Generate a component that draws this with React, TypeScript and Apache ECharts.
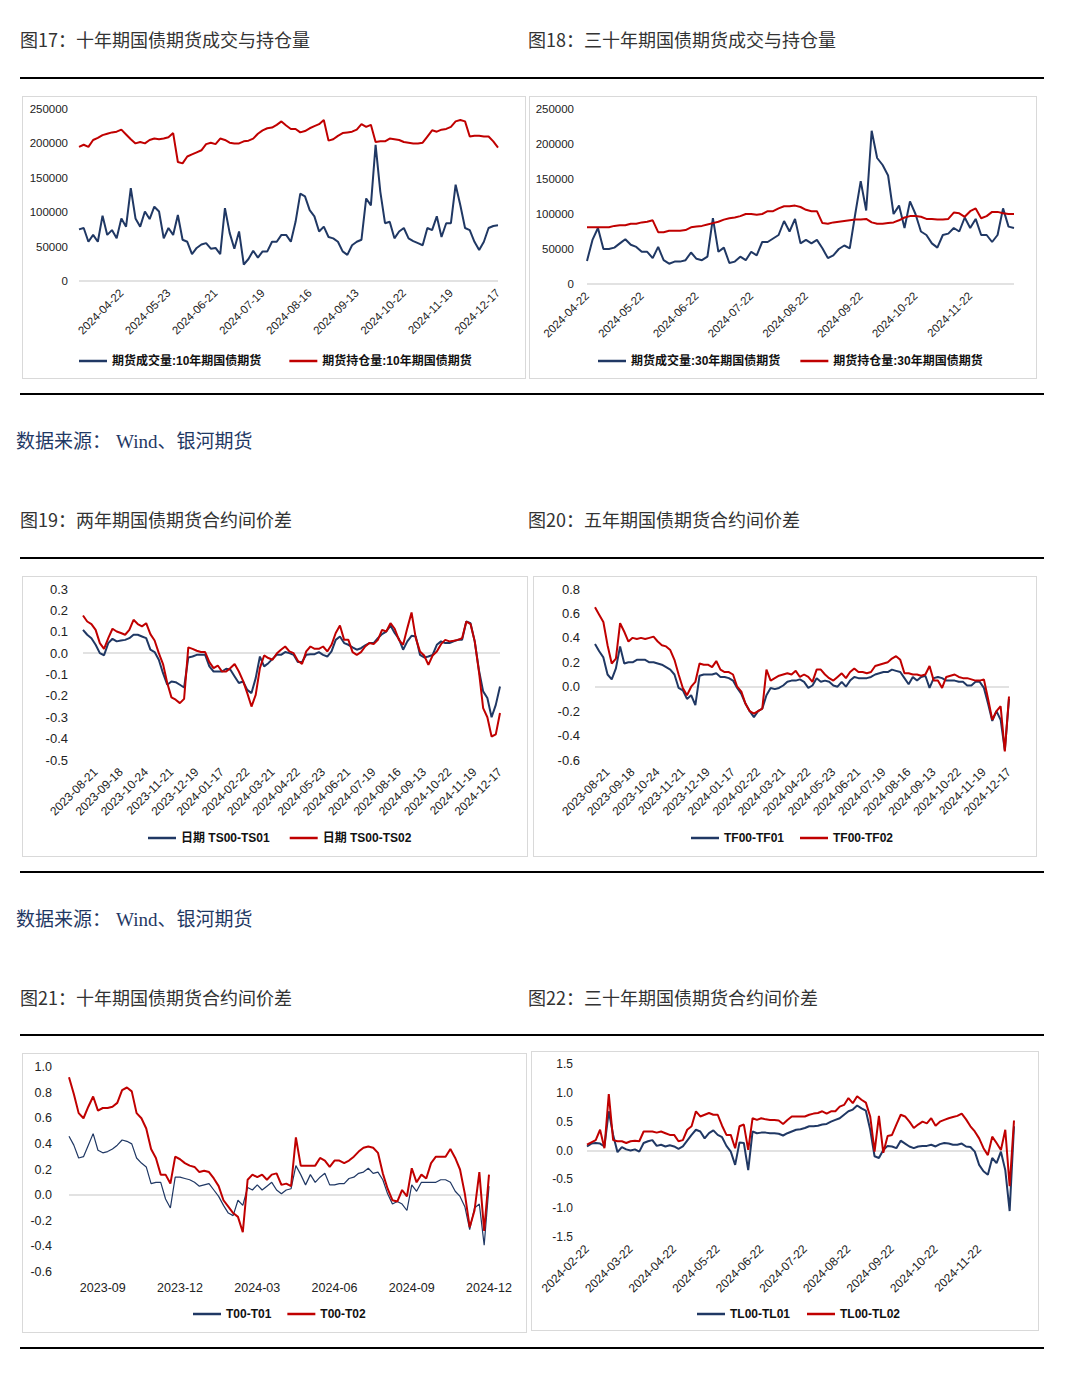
import React, { useEffect, useRef } from 'react';
import * as echarts from 'echarts';

const BLUE = '#203864';
const RED = '#c00000';
const FONT = '"Liberation Sans", Arial, "Noto Sans CJK SC", sans-serif';

// ---------- Fig 17: 10Y volume / open interest ----------
const X17_TICKS = ['2024-04-22', '2024-05-23', '2024-06-21', '2024-07-19', '2024-08-16', '2024-09-13', '2024-10-22', '2024-11-19', '2024-12-17'];
const VOL_10Y = [
  75000, 77000, 57000, 67000, 57000, 95000, 67000, 74000, 62000, 91000,
  79000, 135000, 91000, 79000, 101000, 90000, 108000, 101000, 62000, 77000,
  67000, 96000, 60000, 57000, 39000, 48000, 53000, 55000, 47000, 48000,
  39000, 106000, 70000, 47000, 72000, 24000, 32000, 44000, 34000, 43000,
  43000, 57000, 57000, 67000, 67000, 57000, 86000, 127000, 123000, 103000,
  94000, 72000, 79000, 64000, 62000, 57000, 43000, 38000, 52000, 57000,
  60000, 120000, 110000, 198000, 130000, 84000, 86000, 62000, 72000, 77000,
  62000, 58000, 55000, 52000, 77000, 74000, 94000, 64000, 84000, 84000,
  140000, 110000, 77000, 74000, 57000, 45000, 57000, 77000, 80000, 81000,
];
const OI_10Y = [
  195000, 198000, 195000, 205000, 208000, 212000, 214000, 216000, 217000, 220000,
  213000, 206000, 200000, 202000, 200000, 205000, 207000, 206000, 207000, 209000,
  215000, 173000, 171000, 181000, 184000, 187000, 190000, 199000, 201000, 199000,
  207000, 205000, 201000, 200000, 200000, 203000, 204000, 207000, 214000, 219000,
  222000, 223000, 227000, 232000, 226000, 221000, 221000, 216000, 218000, 222000,
  225000, 228000, 234000, 204000, 206000, 211000, 215000, 216000, 217000, 220000,
  228000, 224000, 227000, 202000, 203000, 203000, 207000, 206000, 205000, 202000,
  201000, 200000, 200000, 201000, 210000, 219000, 217000, 220000, 221000, 224000,
  232000, 234000, 232000, 210000, 211000, 211000, 210000, 210000, 203000, 194000,
];

// ---------- Fig 18: 30Y volume / open interest ----------
const X18_TICKS = ['2024-04-22', '2024-05-22', '2024-06-22', '2024-07-22', '2024-08-22', '2024-09-22', '2024-10-22', '2024-11-22'];
const VOL_30Y = [
  33000, 63000, 80000, 50000, 50000, 52000, 58000, 64000, 56000, 53000,
  46000, 46000, 37000, 53000, 34000, 29000, 32000, 32000, 34000, 45000,
  36000, 34000, 39000, 94000, 46000, 52000, 30000, 32000, 39000, 34000,
  46000, 41000, 60000, 60000, 65000, 70000, 90000, 75000, 93000, 58000,
  63000, 58000, 63000, 51000, 37000, 41000, 50000, 55000, 51000, 100000,
  147000, 105000, 219000, 180000, 170000, 155000, 100000, 112000, 80000, 118000,
  100000, 75000, 70000, 58000, 52000, 70000, 72000, 80000, 75000, 95000,
  80000, 93000, 70000, 70000, 60000, 70000, 108000, 82000, 80000,
];
const OI_30Y = [
  81000, 81000, 81000, 81000, 81000, 83000, 84000, 84000, 86000, 86000,
  88000, 89000, 91000, 74000, 74000, 76000, 76000, 76000, 77000, 81000,
  82000, 83000, 85000, 87000, 89000, 92000, 94000, 95000, 97000, 100000,
  100000, 99000, 100000, 104000, 104000, 108000, 111000, 111000, 112000, 110000,
  106000, 104000, 104000, 87000, 86000, 88000, 89000, 90000, 91000, 92000,
  92000, 93000, 88000, 86000, 86000, 87000, 88000, 91000, 95000, 97000,
  97000, 96000, 93000, 93000, 92000, 92000, 93000, 102000, 101000, 96000,
  104000, 108000, 94000, 97000, 103000, 103000, 101000, 100000, 100000,
];

// ---------- Fig 19 / 20: shared date ticks ----------
const X1920_TICKS = ['2023-08-21', '2023-09-18', '2023-10-24', '2023-11-21', '2023-12-19', '2024-01-17', '2024-02-22', '2024-03-21', '2024-04-22', '2024-05-23', '2024-06-21', '2024-07-19', '2024-08-16', '2024-09-13', '2024-10-22', '2024-11-19', '2024-12-17'];
const TS00_TS01 = [
  0.109, 0.086, 0.07, 0.039, 0.0, -0.01, 0.047, 0.067, 0.055, 0.059,
  0.062, 0.07, 0.086, 0.086, 0.078, 0.07, 0.016, 0.005, -0.031, -0.094,
  -0.148, -0.133, -0.136, -0.148, -0.161, -0.02, -0.016, -0.008, -0.008, -0.008,
  -0.062, -0.086, -0.086, -0.086, -0.073, -0.078, -0.109, -0.14, -0.133, -0.172,
  -0.187, -0.117, -0.016, -0.062, -0.047, -0.027, -0.008, -0.008, 0.005, 0.0,
  -0.008, -0.042, -0.042, -0.008, -0.005, -0.005, 0.005, -0.008, -0.016, 0.008,
  0.062, 0.078, 0.047, 0.039, 0.027, 0.016, 0.023, 0.036, 0.047, 0.047,
  0.07, 0.089, 0.101, 0.129, 0.094, 0.067, 0.016, 0.055, 0.081, 0.078,
  -0.008, -0.02, -0.016, -0.008, 0.039, 0.055, 0.047, 0.047, 0.055, 0.062,
  0.062, 0.148, 0.14, 0.055, -0.08, -0.179, -0.21, -0.30, -0.242, -0.156,
];
const TS00_TS02 = [
  0.176, 0.148, 0.136, 0.109, 0.047, 0.02, 0.07, 0.114, 0.101, 0.094,
  0.086, 0.109, 0.156, 0.136, 0.125, 0.14, 0.089, 0.059, 0.0, -0.051,
  -0.14, -0.207, -0.218, -0.234, -0.214, 0.027, 0.02, 0.011, 0.005, 0.005,
  -0.042, -0.07, -0.058, -0.086, -0.086, -0.07, -0.051, -0.086, -0.13, -0.187,
  -0.25, -0.195, -0.07, -0.011, -0.023, -0.031, -0.002, 0.016, 0.031, 0.008,
  0.0, -0.036, -0.051, 0.008, 0.031, 0.02, 0.02, 0.031, 0.008, 0.039,
  0.094, 0.129, 0.062, 0.062, 0.005, -0.008, 0.005, 0.031, 0.047, 0.042,
  0.062, 0.109, 0.101, 0.14, 0.114, 0.062, 0.039, 0.117, 0.19, 0.07,
  0.008, -0.011, -0.055, -0.011, 0.008, 0.042, 0.062, 0.055, 0.058, 0.062,
  0.07, 0.148, 0.136, 0.055, -0.086, -0.257, -0.30, -0.39, -0.38, -0.28,
];
const TF00_TF01 = [
  0.35, 0.29, 0.24, 0.10, 0.06, 0.15, 0.33, 0.19, 0.20, 0.20,
  0.22, 0.22, 0.22, 0.20, 0.20, 0.19, 0.18, 0.16, 0.14, 0.10,
  -0.01, -0.03, -0.10, -0.07, -0.15, 0.09, 0.10, 0.10, 0.10, 0.11,
  0.08, 0.08, 0.07, 0.05, -0.01, -0.06, -0.14, -0.20, -0.25, -0.20,
  -0.18, -0.07, -0.01, -0.02, -0.01, 0.01, 0.04, 0.05, 0.05, 0.06,
  0.04, -0.01, 0.01, 0.07, 0.04, 0.05, 0.04, 0.01, 0.0, 0.04,
  0.0, 0.05, 0.08, 0.07, 0.07, 0.07, 0.08, 0.10, 0.11, 0.12,
  0.12, 0.14, 0.13, 0.12, 0.07, 0.02, 0.08, 0.05, 0.08, 0.09,
  -0.01, 0.07, 0.08, 0.07, 0.05, 0.05, 0.05, 0.04, 0.04, 0.01,
  0.01, 0.04, 0.04, -0.01, -0.14, -0.28, -0.20, -0.27, -0.52, -0.10,
];
const TF00_TF02 = [
  0.65, 0.59, 0.53, 0.34, 0.19, 0.23, 0.52, 0.45, 0.37, 0.40,
  0.39, 0.40, 0.39, 0.40, 0.41, 0.37, 0.34, 0.33, 0.30, 0.22,
  0.10, -0.01, -0.07, 0.0, 0.04, 0.19, 0.18, 0.18, 0.16, 0.21,
  0.14, 0.12, 0.12, 0.10, 0.0, -0.04, -0.14, -0.20, -0.22, -0.20,
  -0.18, 0.14, 0.05, 0.07, 0.09, 0.10, 0.11, 0.10, 0.13, 0.08,
  0.10, 0.08, 0.04, 0.14, 0.14, 0.10, 0.07, 0.05, 0.08, 0.11,
  0.07, 0.12, 0.15, 0.12, 0.12, 0.11, 0.12, 0.17, 0.18, 0.19,
  0.20, 0.23, 0.25, 0.22, 0.11, 0.11, 0.10, 0.10, 0.09, 0.10,
  0.17, 0.05, 0.05, -0.01, 0.08, 0.09, 0.10, 0.08, 0.07, 0.07,
  0.06, 0.05, 0.05, 0.06, -0.10, -0.27, -0.20, -0.16, -0.53, -0.08,
];

// ---------- Fig 21: 10Y calendar spreads ----------
const X21_TICKS = ['2023-09', '2023-12', '2024-03', '2024-06', '2024-09', '2024-12'];
const T00_T01 = [
  0.46, 0.39, 0.29, 0.30, 0.39, 0.48, 0.35, 0.33, 0.34, 0.36,
  0.39, 0.43, 0.42, 0.40, 0.29, 0.25, 0.22, 0.09, 0.10, 0.10,
  -0.03, -0.10, 0.14, 0.14, 0.13, 0.12, 0.10, 0.07, 0.08, 0.09,
  0.04, -0.01, -0.08, -0.14, -0.16, -0.04, -0.08, 0.06, 0.04, 0.08,
  0.04, 0.07, 0.10, 0.04, 0.01, 0.04, 0.05, 0.23, 0.16, 0.08,
  0.16, 0.10, 0.14, 0.17, 0.08, 0.08, 0.09, 0.09, 0.13, 0.14,
  0.17, 0.18, 0.21, 0.17, 0.18, 0.12, 0.01, -0.07, -0.05, -0.07,
  -0.12, 0.08, 0.03, 0.10, 0.10, 0.10, 0.10, 0.12, 0.12, 0.10,
  0.03, -0.01, -0.09, -0.27, -0.10, -0.07, -0.39, 0.07,
];
const T00_T02 = [
  0.92, 0.79, 0.64, 0.60, 0.69, 0.77, 0.66, 0.68, 0.68, 0.69,
  0.72, 0.82, 0.84, 0.81, 0.64, 0.60, 0.52, 0.36, 0.29, 0.16,
  0.16, 0.09, 0.30, 0.28, 0.25, 0.23, 0.22, 0.18, 0.19, 0.18,
  0.13, 0.07, -0.04, -0.09, -0.14, -0.17, -0.29, 0.12, 0.16, 0.14,
  0.16, 0.12, 0.16, 0.17, 0.08, 0.09, 0.07, 0.45, 0.23, 0.23,
  0.23, 0.23, 0.29, 0.27, 0.22, 0.27, 0.27, 0.25, 0.27, 0.30,
  0.34, 0.37, 0.38, 0.37, 0.33, 0.17, 0.05, -0.04, -0.05, 0.04,
  -0.01, 0.21, 0.10, 0.16, 0.13, 0.25, 0.30, 0.30, 0.30, 0.36,
  0.29, 0.20, 0.01, -0.25, -0.12, 0.18, -0.28, 0.16,
];

// ---------- Fig 22: 30Y calendar spreads ----------
const X22_TICKS = ['2024-02-22', '2024-03-22', '2024-04-22', '2024-05-22', '2024-06-22', '2024-07-22', '2024-08-22', '2024-09-22', '2024-10-22', '2024-11-22'];
const TL00_TL01 = [
  0.07, 0.12, 0.13, 0.12, 0.07, 0.68, 0.27, -0.03, 0.06, 0.02,
  0.0, 0.02, -0.02, 0.13, 0.16, 0.18, 0.08, 0.10, 0.07, 0.09,
  0.07, 0.03, 0.07, 0.17, 0.27, 0.36, 0.33, 0.21, 0.30, 0.35,
  0.27, 0.23, 0.08, -0.02, -0.25, 0.14, 0.13, -0.34, 0.33, 0.30,
  0.31, 0.31, 0.30, 0.30, 0.29, 0.26, 0.30, 0.33, 0.36, 0.37,
  0.39, 0.42, 0.42, 0.43, 0.45, 0.46, 0.50, 0.53, 0.56, 0.62,
  0.68, 0.71, 0.78, 0.73, 0.69, 0.36, -0.10, -0.13, 0.01, 0.08,
  0.07, 0.04, 0.17, 0.12, 0.07, 0.04, 0.07, 0.08, 0.08, 0.10,
  0.07, 0.11, 0.13, 0.12, 0.10, 0.10, 0.12, 0.07, 0.06, -0.02,
  -0.25, -0.36, -0.42, -0.13, -0.22, -0.02, -0.34, -1.05, 0.42,
];
const TL00_TL02 = [
  0.10, 0.14, 0.18, 0.36, 0.04, 0.98, 0.18, 0.16, 0.16, 0.13,
  0.16, 0.17, 0.16, 0.33, 0.33, 0.33, 0.31, 0.33, 0.30, 0.27,
  0.27, 0.16, 0.18, 0.36, 0.42, 0.68, 0.59, 0.62, 0.65, 0.62,
  0.62, 0.43, 0.27, 0.27, 0.04, 0.42, 0.45, 0.01, 0.56, 0.53,
  0.56, 0.54, 0.53, 0.53, 0.52, 0.46, 0.53, 0.59, 0.59, 0.59,
  0.59, 0.62, 0.64, 0.65, 0.68, 0.64, 0.68, 0.68, 0.76, 0.79,
  0.91, 0.82, 0.94, 0.88, 0.83, 0.59, -0.02, 0.60, -0.04, 0.25,
  0.27, 0.45, 0.62, 0.59, 0.50, 0.39, 0.45, 0.50, 0.47, 0.56,
  0.43, 0.50, 0.53, 0.56, 0.58, 0.60, 0.64, 0.54, 0.42, 0.33,
  0.21, 0.04, -0.08, 0.24, 0.13, 0.01, 0.36, -0.62, 0.52,
];

type Spec = {
  names: [string, string];
  s1: number[];
  s2: number[];
  ticks: string[];
  first: number;
  step: number;
  grid: [number, number, number, number];
  legend: [number, number, number];
  y: [number, number, number];
  yFont: number;
  yMargin: number;
  yDigits: number;
  xFont: number;
  xMargin: number;
  rotate: number;
  w1: number;
  w2: number;
};

function makeOption(p: Spec) {
  const n = p.s1.length;
  const cats: string[] = [];
  const tickIdx = new Set<number>();
  for (let i = 0; i < n; i++) {
    const k = (i - p.first) / p.step;
    if (Number.isInteger(k) && k >= 0 && k < p.ticks.length) {
      cats.push(p.ticks[k]);
      tickIdx.add(i);
    } else {
      cats.push('#' + i);
    }
  }
  return {
    animation: false,
    grid: { left: p.grid[0], top: p.grid[1], width: p.grid[2], height: p.grid[3] },
    legend: {
      left: p.legend[0],
      top: p.legend[1],
      itemGap: p.legend[2],
      padding: 0,
      icon: 'rect',
      itemWidth: 28,
      itemHeight: 2.5,
      textStyle: { fontFamily: FONT, fontSize: 12, fontWeight: 'bold', color: '#111' },
      data: p.names,
    },
    xAxis: {
      type: 'category',
      data: cats,
      boundaryGap: false,
      axisLine: { show: false },
      axisTick: { show: false },
      splitLine: { show: false },
      axisLabel: {
        interval: (i: number) => tickIdx.has(i),
        rotate: p.rotate,
        fontSize: p.xFont,
        fontFamily: FONT,
        color: '#222',
        margin: p.xMargin,
      },
    },
    yAxis: {
      type: 'value',
      min: p.y[0],
      max: p.y[1],
      interval: p.y[2],
      axisLine: { show: false },
      axisTick: { show: false },
      splitLine: { show: false },
      axisLabel: {
        fontSize: p.yFont,
        fontFamily: FONT,
        color: '#222',
        margin: p.yMargin,
        formatter: (v: number) => (p.yDigits > 0 ? v.toFixed(p.yDigits) : String(Math.round(v))),
      },
    },
    series: [
      {
        name: p.names[0],
        type: 'line',
        data: p.s1,
        color: BLUE,
        showSymbol: false,
        lineStyle: { width: p.w1, color: BLUE },
        z: 3,
        markLine: {
          silent: true,
          symbol: ['none', 'none'],
          label: { show: false },
          lineStyle: { color: '#d9d9d9', width: 1.5, type: 'solid' },
          data: [{ yAxis: 0 }],
          z: 1,
        },
      },
      {
        name: p.names[1],
        type: 'line',
        data: p.s2,
        color: RED,
        showSymbol: false,
        lineStyle: { width: p.w2, color: RED },
        z: 4,
      },
    ],
  };
}

function ChartBox({ left, top, width, height, spec }: { left: number; top: number; width: number; height: number; spec: Spec }) {
  const ref = useRef<HTMLDivElement>(null);
  useEffect(() => {
    if (!ref.current) return;
    const chart = echarts.init(ref.current, undefined, { renderer: 'svg' });
    chart.setOption(makeOption(spec) as any);
    return () => chart.dispose();
  }, []);
  return (
    <div
      style={{
        position: 'absolute',
        left,
        top,
        width,
        height,
        border: '1px solid #d9d9d9',
        boxSizing: 'border-box',
        background: '#fff',
      }}
    >
      <div ref={ref} style={{ width: width - 2, height: height - 2 }} />
    </div>
  );
}

const SPEC17: Spec = {
  names: ['期货成交量:10年期国债期货', '期货持仓量:10年期国债期货'],
  s1: VOL_10Y, s2: OI_10Y, ticks: X17_TICKS, first: 9, step: 10,
  grid: [56, 12, 419, 172], legend: [56, 258, 28], y: [0, 250000, 50000],
  yFont: 11.5, yMargin: 11, yDigits: 0, xFont: 11.5, xMargin: 10, rotate: 45, w1: 2, w2: 2,
};
const SPEC18: Spec = {
  names: ['期货成交量:30年期国债期货', '期货持仓量:30年期国债期货'],
  s1: VOL_30Y, s2: OI_30Y, ticks: X18_TICKS, first: 0, step: 10,
  grid: [57, 12, 427, 175], legend: [68, 258, 20], y: [0, 250000, 50000],
  yFont: 11.5, yMargin: 13, yDigits: 0, xFont: 11.5, xMargin: 10, rotate: 45, w1: 2, w2: 2,
};
const SPEC19: Spec = {
  names: ['日期 TS00-TS01', '日期 TS00-TS02'],
  s1: TS00_TS01, s2: TS00_TS02, ticks: X1920_TICKS, first: 3, step: 6,
  grid: [60, 12, 417, 171], legend: [125, 255, 20], y: [-0.5, 0.3, 0.1],
  yFont: 13, yMargin: 15, yDigits: 1, xFont: 12, xMargin: 10, rotate: 45, w1: 2, w2: 2,
};
const SPEC20: Spec = {
  names: ['TF00-TF01', 'TF00-TF02'],
  s1: TF00_TF01, s2: TF00_TF02, ticks: X1920_TICKS, first: 3, step: 6,
  grid: [61, 12, 414, 171], legend: [157, 255, 16], y: [-0.6, 0.8, 0.2],
  yFont: 13, yMargin: 15, yDigits: 1, xFont: 12, xMargin: 10, rotate: 45, w1: 2, w2: 2,
};
const SPEC21: Spec = {
  names: ['T00-T01', 'T00-T02'],
  s1: T00_T01, s2: T00_T02, ticks: X21_TICKS, first: 7, step: 16,
  grid: [46, 13, 420, 205], legend: [170, 254, 16], y: [-0.6, 1.0, 0.2],
  yFont: 12.5, yMargin: 17, yDigits: 1, xFont: 12.5, xMargin: 10, rotate: 0, w1: 1.2, w2: 2,
};
const SPEC22: Spec = {
  names: ['TL00-TL01', 'TL00-TL02'],
  s1: TL00_TL01, s2: TL00_TL02, ticks: X22_TICKS, first: 0, step: 10,
  grid: [55, 12, 427, 173], legend: [165, 256, 17], y: [-1.5, 1.5, 0.5],
  yFont: 12, yMargin: 14, yDigits: 1, xFont: 12, xMargin: 10, rotate: 45, w1: 2, w2: 2,
};

const TITLE_FONT = '"Noto Sans CJK SC", sans-serif';

function Title({ x, y, text }: { x: number; y: number; text: string }) {
  return (
    <div
      style={{
        position: 'absolute', left: x, top: y - 12, fontFamily: TITLE_FONT, fontSize: 18,
        lineHeight: '22px', color: '#333', whiteSpace: 'nowrap',
      }}
    >
      {text}
    </div>
  );
}

function Rule({ y }: { y: number }) {
  return <div style={{ position: 'absolute', left: 20, top: y - 1, width: 1024, height: 2, background: '#000' }} />;
}

function Source({ y }: { y: number }) {
  return (
    <div
      style={{
        position: 'absolute', left: 16, top: y - 11, fontFamily: '"Liberation Serif", "Noto Sans CJK SC", serif',
        fontSize: 19, lineHeight: '22px', color: '#1f3864', whiteSpace: 'nowrap',
      }}
    >
      <span>数据来源：</span>
      <span style={{ marginLeft: 5 }}>Wind、银河期货</span>
    </div>
  );
}

export default function App() {
  return (
    <div style={{ position: 'absolute', left: 0, top: 0, width: 1068, height: 1374, background: '#fff', overflow: 'hidden' }}>
      <Title x={20} y={40} text="图17：十年期国债期货成交与持仓量" />
      <Title x={528} y={40} text="图18：三十年期国债期货成交与持仓量" />
      <Rule y={78} />
      <ChartBox left={22} top={96} width={504} height={283} spec={SPEC17} />
      <ChartBox left={529} top={96} width={508} height={283} spec={SPEC18} />
      <Rule y={394} />
      <Source y={442} />

      <Title x={20} y={520} text="图19：两年期国债期货合约间价差" />
      <Title x={528} y={520} text="图20：五年期国债期货合约间价差" />
      <Rule y={558} />
      <ChartBox left={22} top={576} width={506} height={281} spec={SPEC19} />
      <ChartBox left={533} top={576} width={504} height={281} spec={SPEC20} />
      <Rule y={872} />
      <Source y={920} />

      <Title x={20} y={998} text="图21：十年期国债期货合约间价差" />
      <Title x={528} y={998} text="图22：三十年期国债期货合约间价差" />
      <Rule y={1035} />
      <ChartBox left={22} top={1053} width={505} height={280} spec={SPEC21} />
      <ChartBox left={531} top={1051} width={508} height={280} spec={SPEC22} />
      <Rule y={1348} />
    </div>
  );
}
